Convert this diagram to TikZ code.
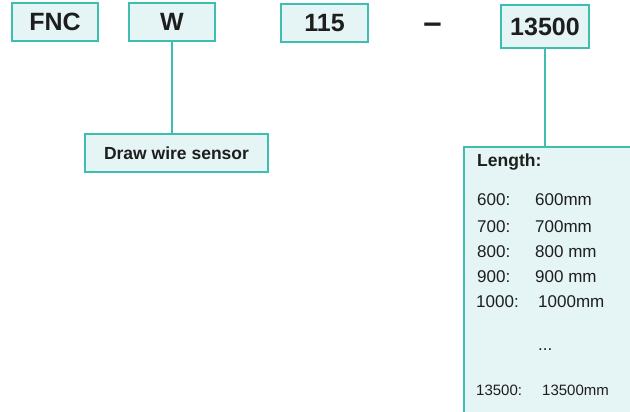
\documentclass[tikz,border=0pt]{standalone}
\usepackage{fontspec}
\setmainfont{Liberation Sans}

\definecolor{boxline}{RGB}{62,190,174}
\definecolor{boxfill}{RGB}{229,244,244}
\definecolor{inktext}{RGB}{30,30,30}

\newcommand\codefont{\fontsize{25}{30}\selectfont\bfseries}
\newcommand\labelfont{\fontsize{17.5}{21}\selectfont\bfseries}
\newcommand\listfont{\fontsize{17}{20}\selectfont}

\tikzset{
  codebox/.style={draw=boxline, fill=boxfill, line width=1.6pt, text=inktext,
    minimum width=86pt, minimum height=38pt, inner sep=0pt, font=\codefont},
  linkline/.style={draw=boxline, line width=1.6pt},
  listtext/.style={anchor=base west, inner sep=0pt, text=inktext, font=\listfont}
}

\begin{document}
\begin{tikzpicture}[x=1pt, y=-1pt]

        \useasboundingbox (0,0) rectangle (630,412);

        % Code boxes (top row)
        \node[codebox] (fnc) at (55,22) {FNC};
        \node[codebox] (wire) at (172,22) {W};
        \node[codebox, minimum width=87pt] (model) at (324.5,23) {115};
        \node[anchor=base, text=inktext, inner sep=0pt, font=\fontsize{33}{36}\selectfont\bfseries] (dash) at (432.5,33.5) {–};
        \node[codebox, minimum width=88pt, minimum height=43pt] (len) at (545,26.5) {13500};

        % Explanation boxes
        \node[codebox, minimum width=183pt, font=\labelfont] (sensor) at (176.5,153) {Draw wire sensor};
        \node[codebox, anchor=north west, minimum width=172pt, minimum height=270pt] (lenbox) at (463,146) {};

        % Connectors
        \draw[linkline] (wire.south) -- (wire.south |- sensor.north);
        \draw[linkline] (len.south) -- (len.south |- lenbox.north);

        % Length list
        \node[listtext, font=\labelfont] (lenhead) at (477,167) {Length:};
        \node[listtext] (key600) at (477,205) {600:};      \node[listtext] (val600) at (535,205) {600mm};
        \node[listtext] (key700) at (477,232) {700:};      \node[listtext] (val700) at (535,232) {700mm};
        \node[listtext] (key800) at (477,257) {800:};      \node[listtext] (val800) at (535,257) {800 mm};
        \node[listtext] (key900) at (477,282) {900:};      \node[listtext] (val900) at (535,282) {900 mm};
        \node[listtext] (key1000) at (476,307) {1000:};    \node[listtext] (val1000) at (538,307) {1000mm};
        \node[listtext] (dots) at (538,350) {...};
        \node[listtext, font=\fontsize{15}{18}\selectfont] (key13500) at (476,395) {13500:};
        \node[listtext, font=\fontsize{15}{18}\selectfont] (val13500) at (542,395) {13500mm};

\end{tikzpicture}
\end{document}
